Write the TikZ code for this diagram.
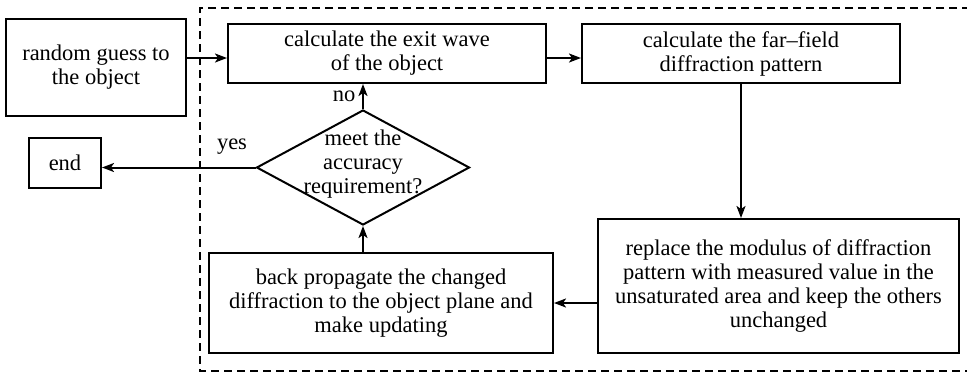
\documentclass[tikz,border=0pt]{standalone}
\usepackage{fontspec}
\setmainfont{Liberation Serif}
\usetikzlibrary{arrows.meta,shapes.geometric,calc}
\tikzset{
  box/.style={draw, line width=2pt, inner sep=0pt, align=center,
    font=\fontsize{22.5}{24}\selectfont},
  lbl/.style={inner sep=0pt, font=\fontsize{22.5}{24}\selectfont},
  arr/.style={line width=2pt, -{Stealth[length=12pt,width=9pt,inset=3pt]}},
  frame/.style={line width=1.6pt, dash pattern=on 8pt off 5pt},
}
\begin{document}
\begin{tikzpicture}[x=1pt,y=-1pt]
\useasboundingbox (0,0) rectangle (967,376);
\fill[white] (0,0) rectangle (967,376);
\draw[frame] (970,8) -- (200,8) -- (200,371) -- (970,371);
\node[box, minimum width=180pt, minimum height=97pt] (rand) at (96,67.5) {random guess to\\the object};
\node[box, minimum width=72pt, minimum height=50pt] (end) at (65,163) {end};
\node[box, minimum width=318pt, minimum height=59pt] (exit) at (387,53.5) {calculate the exit wave\\of the object};
\node[box, minimum width=318pt, minimum height=59pt] (far) at (741,53.5) {calculate the far–field\\diffraction pattern};
\node[draw, diamond, line width=2pt, inner sep=0pt, minimum width=213pt, minimum height=115pt] (dia) at (363,167.5) {};
\node[lbl, align=center] (diat) at (363,164) {meet the\\accuracy\\requirement?};
\node[box, minimum width=344pt, minimum height=100pt] (back) at (381,303) {back propagate the changed\\diffraction to the object plane and\\make updating};
\node[box, minimum width=361pt, minimum height=134pt] (repl) at (778.5,286) {replace the modulus of diffraction\\pattern with measured value in the\\unsaturated area and keep the others\\unchanged};
\coordinate (ya) at (0,58);
\draw[arr] (rand.east |- ya) -- (exit.west |- ya);
\draw[arr] (exit.east |- ya) -- (far.west |- ya);
\draw[arr] (far.south) -- (far.south |- repl.north);
\draw[arr] (repl.west |- back.east) -- (back.east);
\draw[arr] (dia.south |- back.north) -- (dia.south);
\draw[arr] (dia.north) -- (dia.north |- exit.south);
\draw[arr] (dia.west) -- (dia.west -| end.east);
\node[lbl] (no) at (344,96) {no};
\node[lbl] (yes) at (232,147) {yes};
\end{tikzpicture}
\end{document}
